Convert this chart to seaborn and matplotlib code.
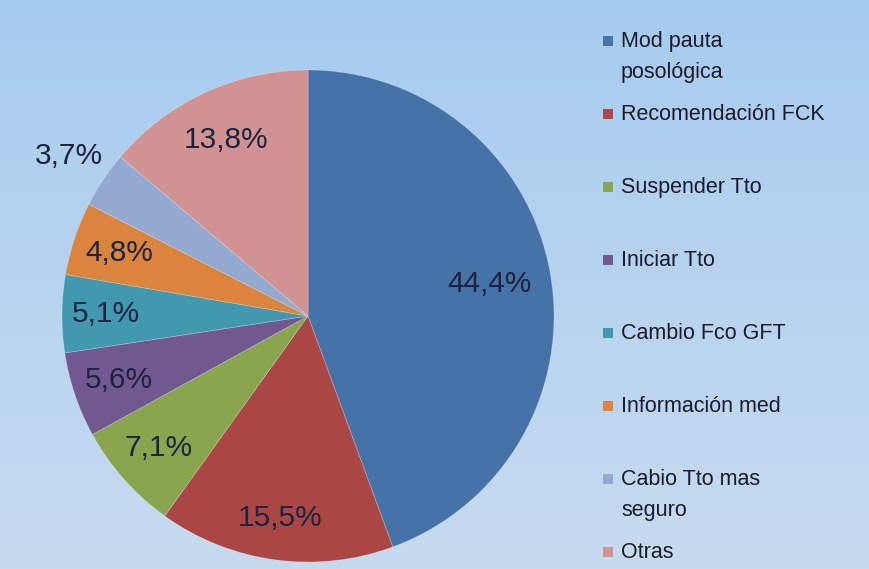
import numpy as np
import matplotlib.pyplot as plt
import seaborn as sns
from matplotlib.patches import Rectangle

# Data
categories = ["Mod pauta\nposológica", "Recomendación FCK", "Suspender Tto", "Iniciar Tto",
              "Cambio Fco GFT", "Información med", "Cabio Tto mas\nseguro", "Otras"]
shares = [44.4, 15.5, 7.1, 5.6, 5.1, 4.8, 3.7, 13.8]
colors = ["#4572A7", "#AA4643", "#89A54E", "#71588F", "#4198AF", "#DB843D", "#93A9CF", "#D19392"]

# label radius (fraction of pie radius) per slice
label_r = [0.75, 0.83, 0.81, 0.81, 0.82, 0.81, 1.17, 0.79]

sns.set_style("white")
plt.rcParams['font.family'] = ['Liberation Sans', 'DejaVu Sans']
palette = sns.color_palette(colors)

W, H = 869, 569
fig = plt.figure(figsize=(W / 100, H / 100), dpi=100)

# gradient background
bg = fig.add_axes([0, 0, 1, 1], zorder=0)
top = np.array([166, 204, 240]) / 255
bot = np.array([199, 219, 239]) / 255
t = np.linspace(0, 1, 256)[:, None]
grad = (top[None, :] * (1 - t) + bot[None, :] * t)[:, None, :]
bg.imshow(grad, aspect='auto', extent=[0, 1, 0, 1])
bg.axis('off')

# pie axes: center (308, 316) px, radius 246 px
cx, cy, R = 308, 316, 246
ax = fig.add_axes([(cx - R) / W, (H - cy - R) / H, 2 * R / W, 2 * R / H], zorder=1)
ax.patch.set_alpha(0)
wedges, _ = ax.pie(shares, colors=palette, startangle=90, counterclock=False, radius=1,
                   wedgeprops=dict(edgecolor=(1, 1, 1, 0.25), linewidth=0.6))
ax.set_xlim(-1, 1)
ax.set_ylim(-1, 1)
ax.set_aspect('auto')
ax.axis('off')

for w, v, r in zip(wedges, shares, label_r):
    ang = np.deg2rad((w.theta1 + w.theta2) / 2)
    ax.text(r * np.cos(ang), r * np.sin(ang), f"{v:.1f}%".replace('.', ','),
            ha='center', va='center', fontsize=21.5, color="#1c2340", clip_on=False)

# legend drawn at fixed rows
lx, ly0, step = 621, 41, 73
for i, (lab, col) in enumerate(zip(categories, palette)):
    y = ly0 + i * step
    fig.text(lx / W, 1 - (y - 10) / H, lab, ha='left', va='top', fontsize=15.5,
             color="#1a1a2a", linespacing=1.65, zorder=3)
    fig.patches.append(Rectangle(((lx - 18) / W, 1 - (y + 5) / H), 10 / W, 10 / H,
                                 transform=fig.transFigure, facecolor=col,
                                 edgecolor='none', zorder=3))

fig.savefig("out.png", dpi=100)
